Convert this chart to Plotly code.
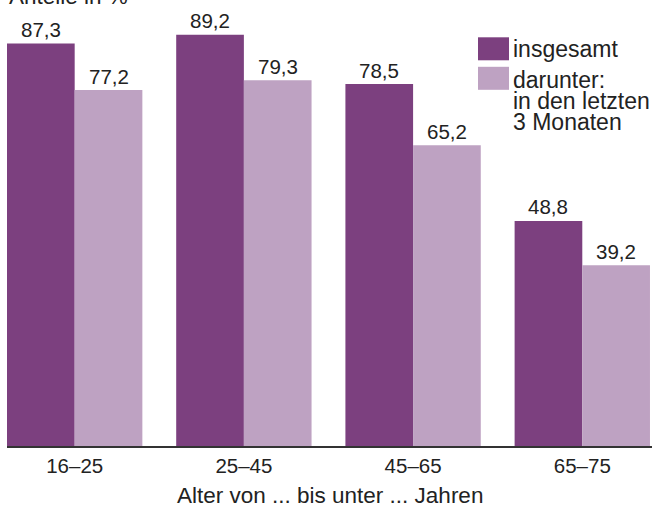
import plotly.graph_objects as go

categories = ["16–25", "25–45", "45–65", "65–75"]
insgesamt = [87.3, 89.2, 78.5, 48.8]
darunter = [77.2, 79.3, 65.2, 39.2]
series_names = ["insgesamt", "darunter:<br>in den letzten<br>3 Monaten"]
legend_lines = [["insgesamt"], ["darunter:", "in den letzten", "3 Monaten"]]
y_title = "Anteile in %"
x_title = "Alter von ... bis unter ... Jahren"

DARK = "#7c407f"
LIGHT = "#bea2c2"
TXT = "#222222"
FONT = "Liberation Sans, Arial, sans-serif"
NUM_SIZE = 20.5
TEXT_SIZE = 22.5
LEG_SIZE = 23

W, H = 652, 506
ML, MR, MT, MB = 7, 0, 20, 60
PW, PH = W - ML - MR, H - MT - MB


def px_x(p):
    return (p - ML) / PW


def px_y(p):
    return (H - MB - p) / PH


def fmt(v):
    return f"{v:.1f}".replace(".", ",")


fig = go.Figure()
fig.add_bar(x=categories, y=insgesamt, name=series_names[0], marker_color=DARK,
            marker_line_width=0, showlegend=False)
fig.add_bar(x=categories, y=darunter, name=series_names[1], marker_color=LIGHT,
            marker_line_width=0, showlegend=False)

annotations = []
for i, (a, b) in enumerate(zip(insgesamt, darunter)):
    for off, v in ((-0.2, a), (0.2, b)):
        annotations.append(dict(x=i + off, y=v, xref="x", yref="y", text=fmt(v),
                                showarrow=False, yanchor="middle", yshift=14,
                                font=dict(family=FONT, size=NUM_SIZE, color=TXT)))

annotations.append(dict(x=px_x(7), y=px_y(-4), xref="paper", yref="paper", text=y_title,
                        showarrow=False, xanchor="left", yanchor="middle",
                        font=dict(family=FONT, size=TEXT_SIZE, color=TXT)))
annotations.append(dict(x=0.5, y=px_y(495), xref="paper", yref="paper", text=x_title,
                        showarrow=False, xanchor="center", yanchor="middle",
                        font=dict(family=FONT, size=TEXT_SIZE, color=TXT)))

shapes = []
sq_tops = [37.3, 66.8]
for k, color in enumerate([DARK, LIGHT]):
    top = sq_tops[k]
    shapes.append(dict(type="rect", xref="paper", yref="paper",
                       x0=px_x(478), x1=px_x(509), y0=px_y(top + 23), y1=px_y(top),
                       fillcolor=color, line_width=0))

line_centers = [[49], [80, 101, 122]]
for lines, centers in zip(legend_lines, line_centers):
    for t, c in zip(lines, centers):
        annotations.append(dict(x=px_x(511), y=px_y(c), xref="paper", yref="paper", text=t,
                                showarrow=False, xanchor="left", yanchor="middle",
                                font=dict(family=FONT, size=LEG_SIZE, color=TXT)))

fig.update_layout(
    width=W, height=H,
    margin=dict(l=ML, r=MR, t=MT, b=MB, pad=0),
    paper_bgcolor="white", plot_bgcolor="white",
    barmode="group", bargap=0.2, bargroupgap=0,
    annotations=annotations, shapes=shapes,
    font=dict(family=FONT, color=TXT),
    showlegend=False,
)
fig.update_xaxes(type="category", range=[-0.4, 3.412], showline=True, linecolor="#333333",
                 linewidth=2, ticks="", showgrid=False, zeroline=False,
                 tickfont=dict(family=FONT, size=NUM_SIZE, color=TXT))
fig.update_yaxes(range=[0, 92.39], visible=False, showgrid=False, zeroline=False)

fig.write_html("out.html", config={"displayModeBar": False},
               post_script="document.body.style.margin='0';document.body.style.overflow='hidden';")
